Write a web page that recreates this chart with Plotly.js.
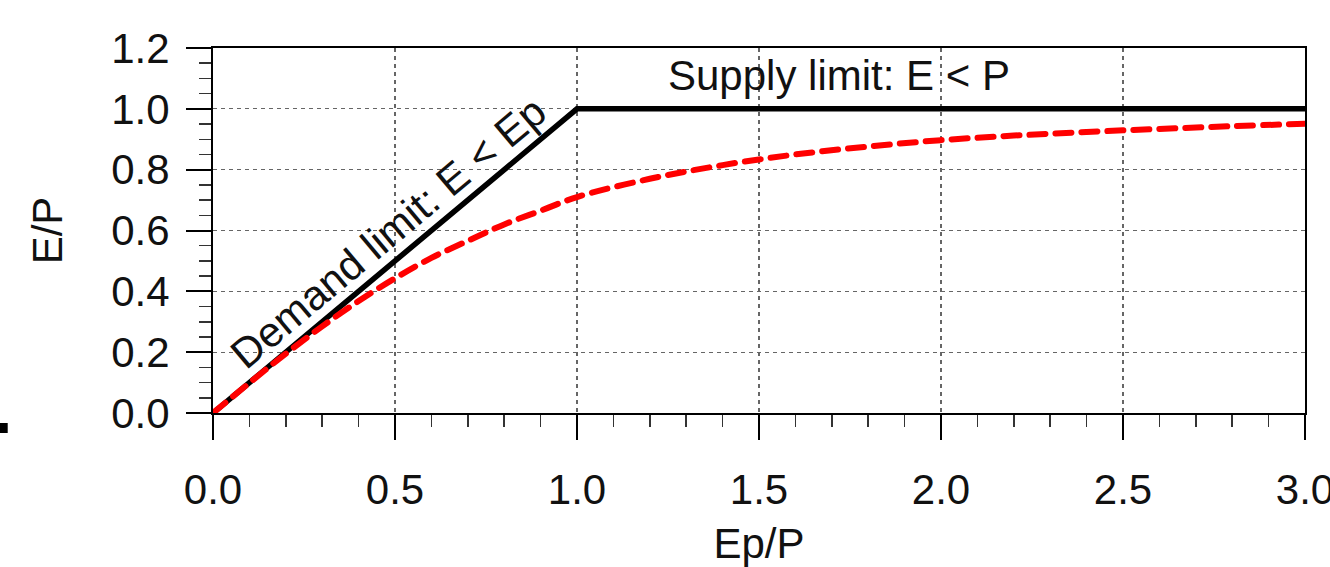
<!DOCTYPE html>
<html>
<head>
<meta charset="utf-8">
<script src="https://cdn.plot.ly/plotly-3.0.1.min.js"></script>
<style>
html,body{margin:0;padding:0;background:#fff;}
#chart{width:1330px;height:567px;}
</style>
</head>
<body>
<div id="chart"></div>
<script>
// Limits (black)
const limitX = [0, 1, 3];
const limitY = [0, 1, 1];
// Curve (red dashed)
const curveX = [0, 0.1, 0.2, 0.3, 0.4, 0.5, 0.6, 0.7, 0.8, 0.9, 1.0, 1.2, 1.4, 1.6, 1.8, 2.0, 2.2, 2.4, 2.6, 2.8, 3.0];
const curveY = [0, 0.099, 0.195, 0.285, 0.368, 0.443, 0.51, 0.566, 0.62, 0.665, 0.71, 0.77, 0.815, 0.85, 0.876, 0.897, 0.912, 0.924, 0.934, 0.943, 0.951];
const xTickVals = [0, 0.5, 1.0, 1.5, 2.0, 2.5, 3.0];
const xTickText = ['0.0', '0.5', '1.0', '1.5', '2.0', '2.5', '3.0'];
const yTickVals = [0, 0.2, 0.4, 0.6, 0.8, 1.0, 1.2];
const yTickText = ['0.0', '0.2', '0.4', '0.6', '0.8', '1.0', '1.2'];
const supplyLabel = 'Supply limit: E < P';
const demandLabel = 'Demand limit: E < Ep';

const font = {family: 'Liberation Sans, Arial, sans-serif', size: 42, color: '#111'};

const traces = [
  {x: limitX, y: limitY, mode: 'lines', line: {color: '#000', width: 5.5}, hoverinfo: 'skip', showlegend: false},
  {x: curveX, y: curveY, mode: 'lines', line: {color: '#ff0000', width: 6, dash: '16px,10px', shape: 'spline'}, hoverinfo: 'skip', showlegend: false}
];

const axisCommon = {
  showline: true, linecolor: '#000', linewidth: 2, mirror: true,
  ticks: 'outside', ticklen: 25, tickwidth: 2, tickcolor: '#000',
  showgrid: true, gridcolor: '#666', gridwidth: 1.2, griddash: '4px,4px',
  zeroline: false, tickfont: font, ticklabeloverflow: 'allow'
};

const layout = {
  width: 1330, height: 567,
  margin: {l: 213, r: 25, t: 48, b: 154},
  paper_bgcolor: '#fff', plot_bgcolor: '#fff',
  font: font,
  xaxis: Object.assign({}, axisCommon, {
    range: [0, 3], tickmode: 'array', tickvals: xTickVals, ticktext: xTickText,
    ticklabelstandoff: 14,
    minor: {dtick: 0.1, ticks: 'outside', ticklen: 12, tickwidth: 1.5, tickcolor: '#333', showgrid: false},
    title: {text: 'Ep/P', font: font, standoff: 26}
  }),
  yaxis: Object.assign({}, axisCommon, {
    range: [0, 1.2], tickmode: 'array', tickvals: yTickVals, ticktext: yTickText,
    ticklabelstandoff: 8,
    minor: {dtick: 0.05, ticks: 'outside', ticklen: 12, tickwidth: 1.5, tickcolor: '#333', showgrid: false},
    title: {text: 'E/P', font: font, standoff: 36}
  }),
  annotations: [
    {x: 1.72, y: 1.11, xref: 'x', yref: 'y', text: supplyLabel, showarrow: false, font: font, xanchor: 'center', yanchor: 'middle'},
    {x: 0.481, y: 0.595, xref: 'x', yref: 'y', text: demandLabel, showarrow: false, font: font, textangle: -40, xanchor: 'center', yanchor: 'middle'}
  ],
  shapes: [
    {type: 'rect', xref: 'paper', yref: 'paper', x0: -0.196, x1: -0.188, y0: -0.0274, y1: -0.0548, fillcolor: '#000', line: {width: 0}}
  ]
};

Plotly.newPlot('chart', traces, layout, {staticPlot: true, displayModeBar: false}).then(function (gd) {
  const tr = gd.querySelectorAll('.scatterlayer .trace');
  if (tr.length > 1) {
    tr[1].querySelectorAll('path.js-line').forEach(function (p) { p.style.strokeLinecap = 'round'; });
  }
});
</script>
</body>
</html>
